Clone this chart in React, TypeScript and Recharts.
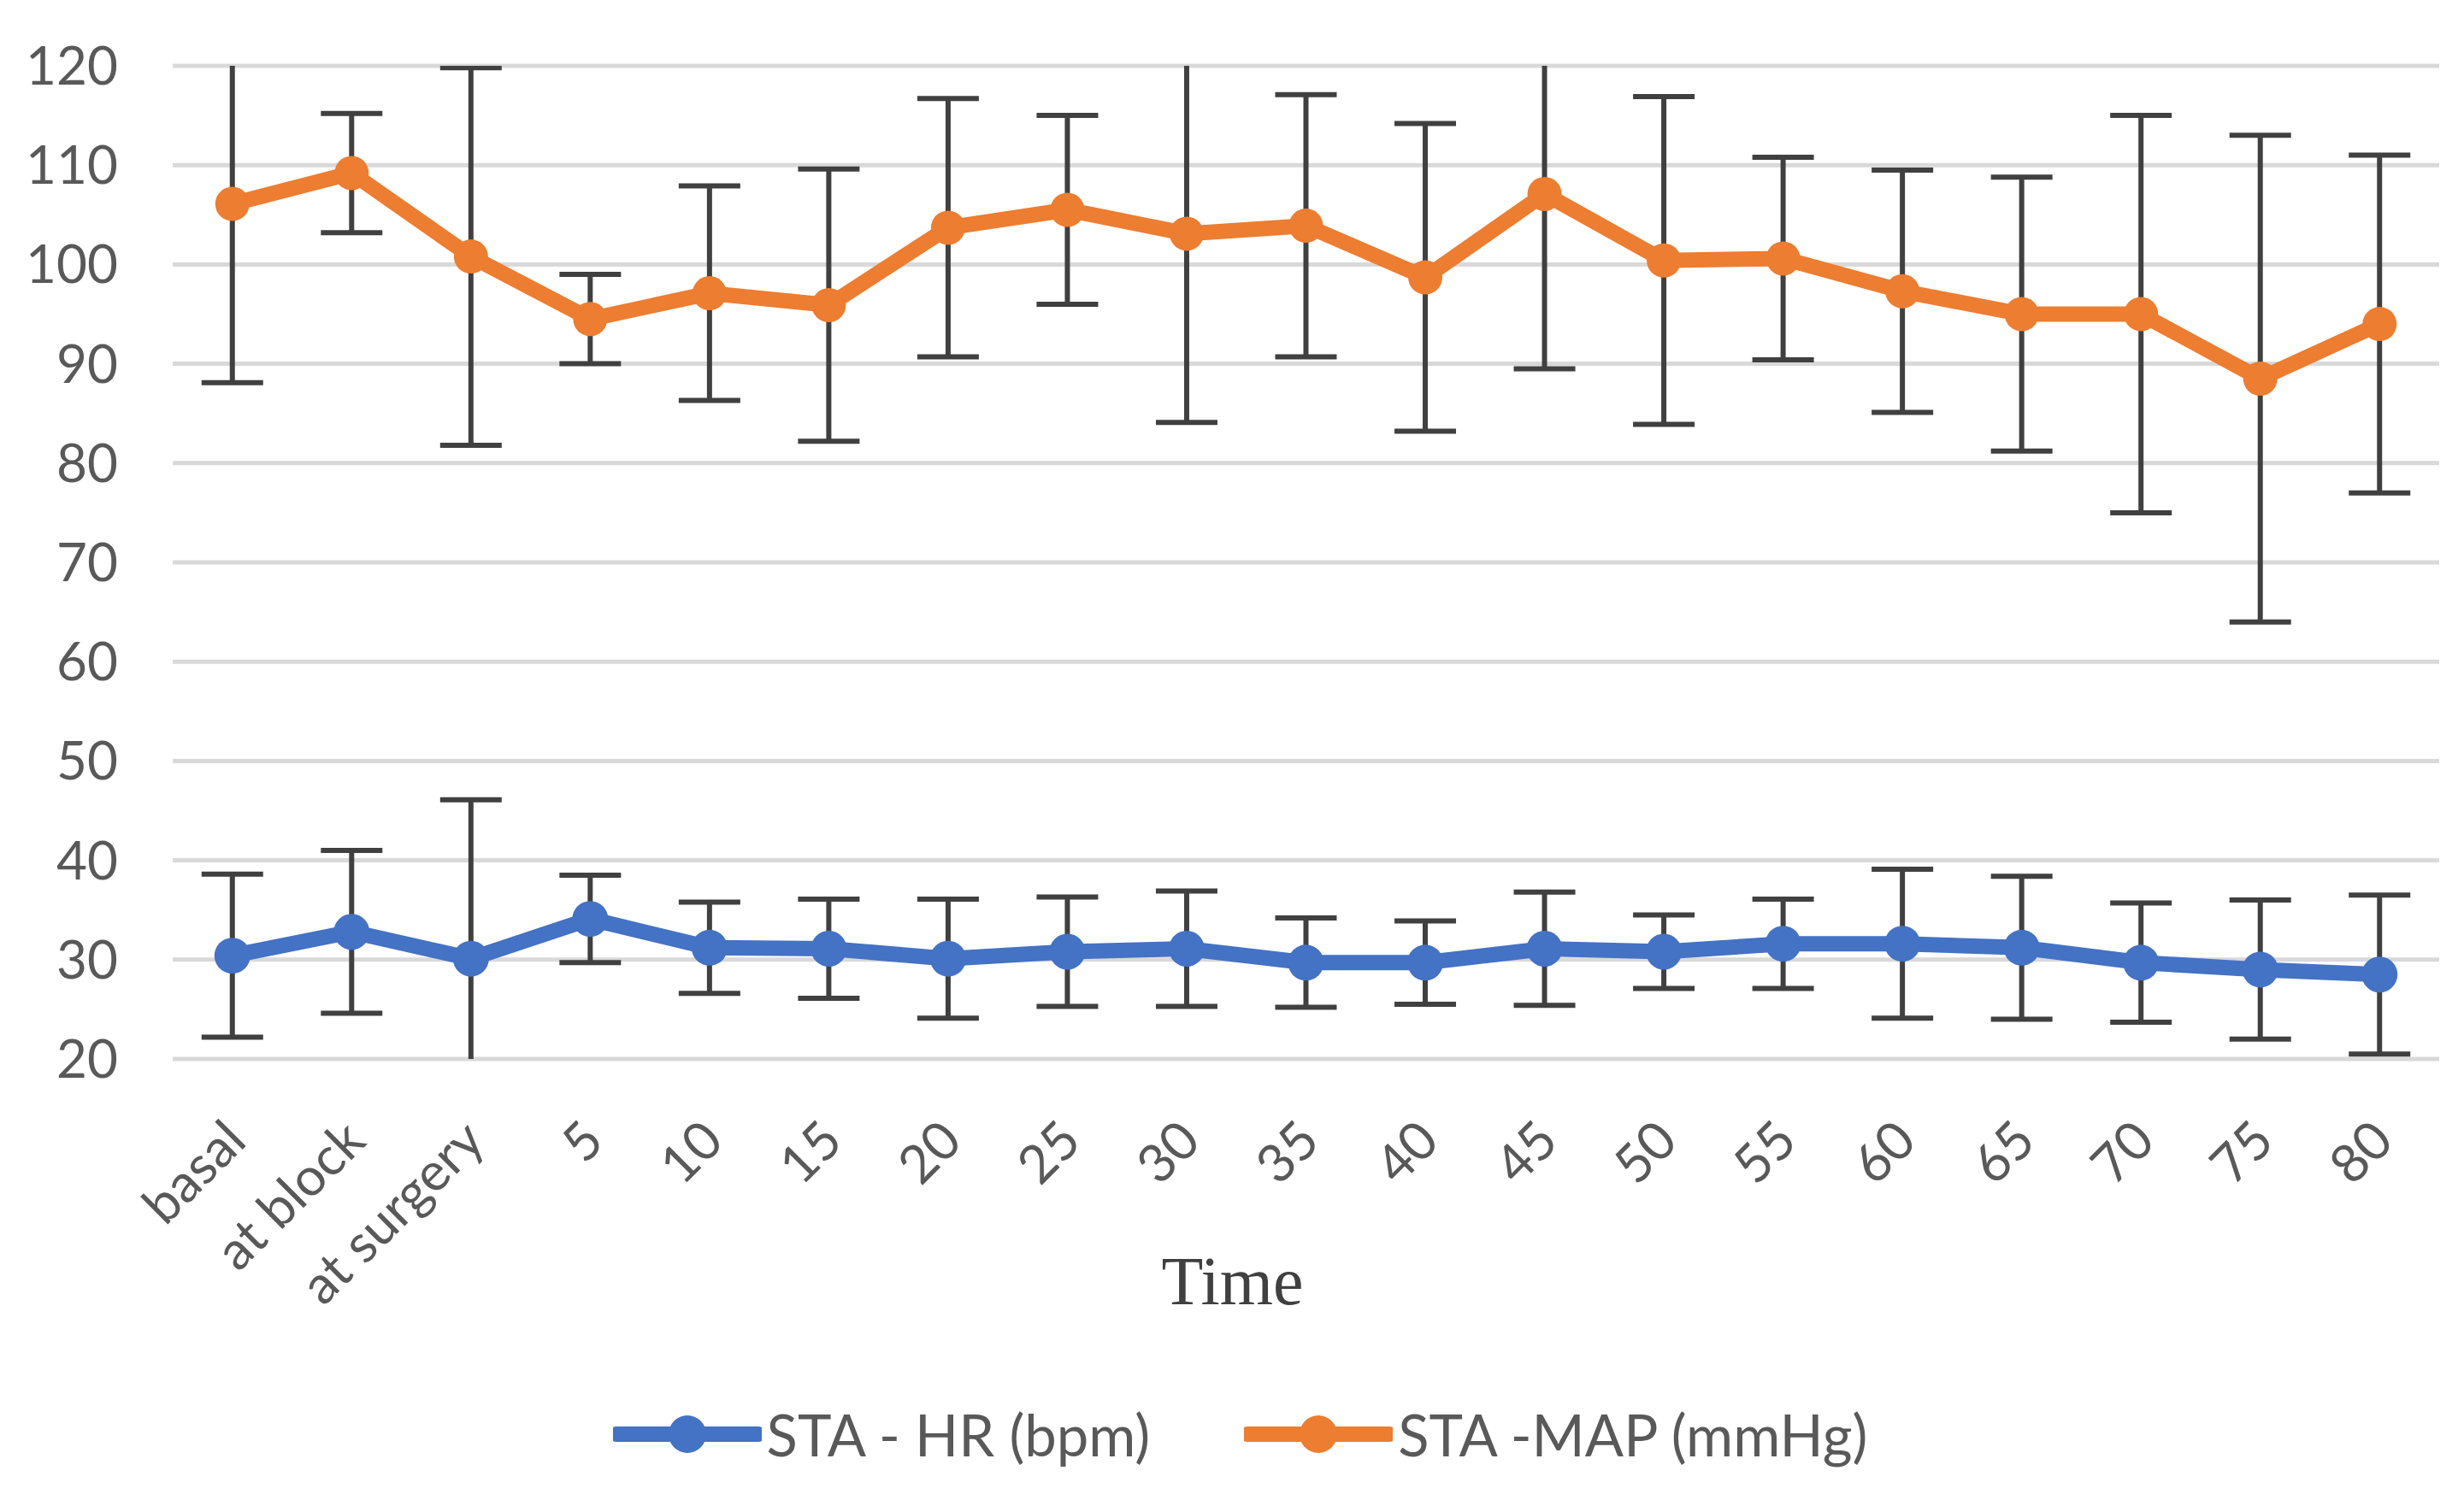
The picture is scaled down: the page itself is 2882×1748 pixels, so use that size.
import { CartesianGrid, ErrorBar, Legend, Line, LineChart, XAxis, YAxis } from "recharts";

const categories = [
  "basal", "at block", "at surgery", "5", "10", "15", "20", "25", "30", "35",
  "40", "45", "50", "55", "60", "65", "70", "75", "80"
];
const hrMean = [30.4, 32.8, 30.1, 34.1, 31.2, 31.1, 30.1, 30.8, 31.1, 29.7, 29.7, 31.1, 30.8, 31.6, 31.6, 31.2, 29.7, 29.0, 28.5];
const hrSd = [8.2, 8.2, 16, 4.4, 4.6, 5, 6, 5.5, 5.8, 4.5, 4.2, 5.7, 3.7, 4.5, 7.5, 7.2, 6, 7, 8];
const mapMean = [106.1, 109.2, 100.8, 94.5, 97.1, 95.9, 103.7, 105.5, 103.1, 103.9, 98.7, 107.1, 100.4, 100.6, 97.3, 95, 95, 88.5, 94];
const mapSd = [18, 6, 19, 4.5, 10.8, 13.7, 13, 9.5, 19, 13.2, 15.5, 17.6, 16.5, 10.2, 12.2, 13.8, 20, 24.5, 17];
const yTicks = [20, 30, 40, 50, 60, 70, 80, 90, 100, 110, 120];

const data = categories.map((time, i) => ({
  time,
  hr: hrMean[i],
  hrSd: hrSd[i],
  map: mapMean[i],
  mapSd: mapSd[i]
}));

const BLUE = "#4472C4";
const ORANGE = "#ED7D31";
const TEXT = "#595959";
const FONT = "Lato, 'Open Sans', sans-serif";

// plot box, used only to clip the error bars like Excel does at the axis max/min
const W = 2882;
const H = 1748;
const M = { top: 77, right: 29, left: 0, bottom: 30 };
const Y_W = 202;
const X_H = 399;
const LEGEND_H = 80;

const XTick = ({ x, y, payload }: any) => {
  const ax = x + 2;
  const ay = y + 82;
  return (
    <text
      x={ax}
      y={ay}
      transform={`rotate(-45, ${ax}, ${ay})`}
      textAnchor="end"
      dominantBaseline="central"
      fontSize={62}
      fontFamily={FONT}
      fill={TEXT}
    >
      {payload.value}
    </text>
  );
};

const legendItems = [
  { label: "STA - HR (bpm)", color: BLUE },
  { label: "STA -MAP (mmHg)", color: ORANGE }
];

const LegendContent = () => (
  <div
    style={{
      display: "flex",
      justifyContent: "center",
      alignItems: "center",
      height: LEGEND_H,
      paddingLeft: 48,
      gap: 110,
      fontFamily: FONT,
      fontSize: 67,
      color: TEXT
    }}
  >
    {legendItems.map((item) => (
      <div key={item.label} style={{ display: "flex", alignItems: "center", gap: 6 }}>
        <svg width={174} height={50}>
          <line x1={4} y1={25} x2={170} y2={25} stroke={item.color} strokeWidth={18} strokeLinecap="round" />
          <circle cx={87} cy={25} r={22} fill={item.color} />
        </svg>
        <span>{item.label}</span>
      </div>
    ))}
  </div>
);

const App = () => {
  const plotW = W - M.left - M.right - Y_W;
  const plotH = H - M.top - M.bottom - X_H - LEGEND_H;
  const band = plotW / categories.length;
  return (
    <div style={{ position: "absolute", left: 0, top: 0, background: "#fff" }}>
      <LineChart width={W} height={H} data={data} margin={M}>
        <defs>
          <clipPath id="plotClip">
            <rect x={M.left + Y_W} y={M.top} width={plotW} height={plotH} />
          </clipPath>
        </defs>
        <CartesianGrid stroke="#D9D9D9" strokeWidth={5} vertical={false} />
        <XAxis
          dataKey="time"
          interval={0}
          height={X_H}
          padding={{ left: band / 2, right: band / 2 }}
          tickSize={0}
          tickMargin={0}
          axisLine={false}
          tickLine={false}
          tick={<XTick />}
          label={{
            value: "Time",
            position: "insideBottom",
            offset: 112,
            dx: -86,
            style: { fontSize: 80, fontFamily: "'Liberation Serif', serif", fill: "#404040" }
          }}
        />
        <YAxis
          width={Y_W}
          domain={[20, 120]}
          ticks={yTicks}
          interval={0}
          allowDataOverflow
          tickSize={0}
          tickMargin={64}
          axisLine={false}
          tickLine={false}
          tick={{ fontSize: 62, fontFamily: FONT, fill: TEXT }}
        />
        <Legend verticalAlign="bottom" content={<LegendContent />} />
        <Line dataKey="hr" stroke="none" dot={false} activeDot={false} legendType="none" isAnimationActive={false}>
          <ErrorBar dataKey="hrSd" width={36} strokeWidth={6} stroke="#404040" direction="y" clipPath="url(#plotClip)" />
        </Line>
        <Line dataKey="map" stroke="none" dot={false} activeDot={false} legendType="none" isAnimationActive={false}>
          <ErrorBar dataKey="mapSd" width={36} strokeWidth={6} stroke="#404040" direction="y" clipPath="url(#plotClip)" />
        </Line>
        <Line
          dataKey="hr"
          stroke={BLUE}
          strokeWidth={18}
          dot={{ r: 21, fill: BLUE, stroke: BLUE, strokeWidth: 0 }}
          activeDot={false}
          isAnimationActive={false}
        />
        <Line
          dataKey="map"
          stroke={ORANGE}
          strokeWidth={18}
          dot={{ r: 20, fill: ORANGE, stroke: ORANGE, strokeWidth: 0 }}
          activeDot={false}
          isAnimationActive={false}
        />
      </LineChart>
    </div>
  );
};

export default App;
